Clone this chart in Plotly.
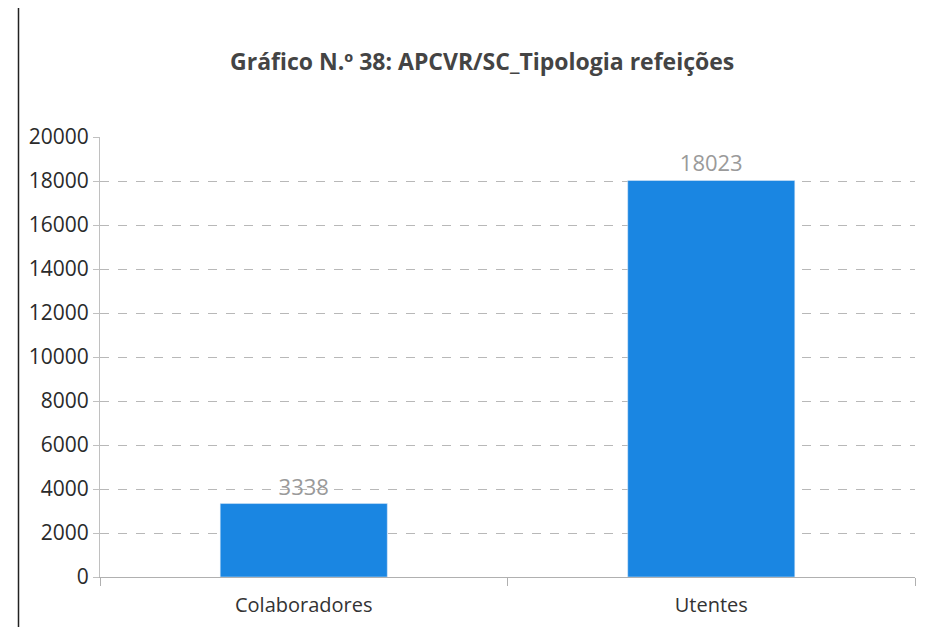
import plotly.graph_objects as go

categories = ["Colaboradores", "Utentes"]
values = [3338, 18023]
y_ticks = [0, 2000, 4000, 6000, 8000, 10000, 12000, 14000, 16000, 18000, 20000]

fig = go.Figure()
fig.add_trace(go.Bar(
    x=categories, y=values,
    marker=dict(color="#1a86e2"),
    width=0.41,
    text=[str(v) for v in values],
    textposition="outside",
    textfont=dict(color="#9a9a9a", size=22, family="Open Sans"),
    cliponaxis=False,
))

fig.update_layout(
    width=919, height=619,
    paper_bgcolor="white", plot_bgcolor="white",
    margin=dict(l=92, r=12, t=129, b=50),
    title=dict(text="<b>Gráfico N.º 38: APCVR/SC_Tipologia refeições</b>",
               x=0.516, xanchor="center", y=0.913, yanchor="middle",
               font=dict(family="Open Sans", size=23, color="#444444")),
    showlegend=False,
)
fig.update_yaxes(range=[0, 20000], tickvals=y_ticks, ticktext=[str(t) for t in y_ticks],
                 showgrid=True, gridcolor="#b8b8b8", gridwidth=1, griddash="dash",
                 zeroline=False, showline=True, linecolor="#c0c0c0",
                 ticks="outside", ticklen=6, tickcolor="#c0c0c0",
                 tickfont=dict(family="Open Sans", size=21, color="#2a2a2a"))
fig.update_xaxes(showline=True, linecolor="#b0b0b0", ticks="outside", tickson="boundaries",
                 ticklen=8, tickcolor="#b0b0b0", ticklabelstandoff=10, automargin=False,
                 tickfont=dict(family="Open Sans", size=20, color="#333333"))

fig.add_shape(type="line", xref="paper", yref="paper", x0=-0.1, x1=-0.1, y0=-0.12, y1=1.3,
              line=dict(color="#222222", width=1.5))

fig.write_html("out.html")
